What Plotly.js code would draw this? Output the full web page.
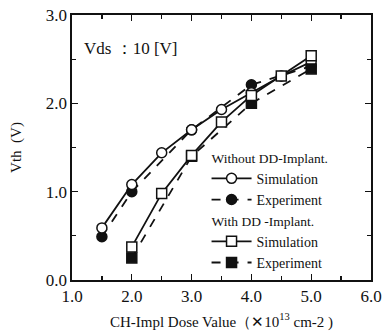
<!DOCTYPE html>
<html>
<head>
<meta charset="utf-8">
<script src="https://cdn.plot.ly/plotly-3.0.1.min.js"></script>
<style>html,body{margin:0;padding:0;background:#fff;}#chart{width:382px;height:335px;}</style>
</head>
<body>
<div id="chart"></div>
<script>
// Without DD-Implant
const xWoSim = [1.5, 2.0, 2.5, 3.0, 3.5, 4.0, 4.5, 5.0];
const yWoSim = [0.59, 1.08, 1.44, 1.70, 1.93, 2.12, 2.31, 2.47];
const xWoExp = [1.5, 2.0, 3.0, 4.0, 5.0];
const yWoExp = [0.49, 1.00, 1.70, 2.21, 2.42];
// With DD-Implant
const xWSim = [2.0, 2.5, 3.0, 3.5, 4.0, 4.5, 5.0];
const yWSim = [0.375, 0.98, 1.41, 1.79, 2.09, 2.31, 2.54];
const xWExp = [2.0, 3.0, 4.0, 5.0];
const yWExp = [0.25, 1.40, 2.00, 2.39];

const seriesNames = ['Simulation', 'Experiment'];
const groupTitles = ['Without DD-Implant.', 'With DD -Implant.'];
const xTickVals = [1, 2, 3, 4, 5, 6];
const yTickVals = [0, 1, 2, 3];

const FONT = 'Liberation Serif, Times New Roman, serif';

function tr(x, y, name, group, gtitle, symbol, dash, open) {
  return {
    x: x, y: y, name: name, type: 'scatter', mode: 'lines+markers',
    legendgroup: group,
    legendgrouptitle: {text: gtitle, font: {family: FONT, size: 13.5, color: '#111'}},
    line: {color: '#111', width: 1.8, dash: dash},
    marker: {symbol: symbol, size: 10, color: open ? '#fff' : '#111',
             line: {color: '#111', width: 1.5}}
  };
}

const data = [
  tr(xWoExp, yWoExp, seriesNames[1], 'wo', groupTitles[0], 'circle', 'dash', false),
  tr(xWoSim, yWoSim, seriesNames[0], 'wo', groupTitles[0], 'circle', 'solid', true),
  tr(xWExp, yWExp, seriesNames[1], 'w', groupTitles[1], 'square', 'dash', false),
  tr(xWSim, yWSim, seriesNames[0], 'w', groupTitles[1], 'square', 'solid', true)
];
data[1].legendrank = 1; data[0].legendrank = 2; data[3].legendrank = 3; data[2].legendrank = 4;

const axisCommon = {
  showline: true, linecolor: '#111', linewidth: 1.6, mirror: 'ticks',
  ticks: 'inside', ticklen: 6, tickwidth: 1.3, tickcolor: '#111',
  showgrid: false, zeroline: false, tickformat: '.1f',
  tickfont: {family: FONT, size: 17, color: '#111'},
  minor: {ticks: 'inside', ticklen: 4, tickwidth: 1.3, tickcolor: '#111', dtick: 0.5, showgrid: false}
};

const layout = {
  width: 382, height: 335,
  margin: {l: 72, r: 11, t: 15, b: 55},
  paper_bgcolor: '#fff', plot_bgcolor: '#fff',
  font: {family: FONT, color: '#111'},
  xaxis: Object.assign({}, axisCommon, {
    range: [1, 6], tickvals: xTickVals,
    title: {text: 'CH-Impl Dose Value（✕10<sup>13</sup> cm-2 )', font: {family: FONT, size: 15, color: '#111'}, standoff: 11}
  }),
  yaxis: Object.assign({}, axisCommon, {
    range: [0, 3], tickvals: yTickVals,
    title: {text: 'Vth  (V)', font: {family: FONT, size: 15, color: '#111'}, standoff: 20}
  }),
  showlegend: true,
  legend: {
    x: 0.45, y: 0.52, xanchor: 'left', yanchor: 'top',
    bgcolor: 'rgba(0,0,0,0)', borderwidth: 0,
    font: {family: FONT, size: 14, color: '#111'},
    tracegroupgap: 0, itemwidth: 40,
    traceorder: 'grouped'
  },
  annotations: [{
    xref: 'paper', yref: 'paper', x: 0.035, y: 0.875, xanchor: 'left', yanchor: 'middle',
    text: 'Vds ：10 [V]', showarrow: false, font: {family: FONT, size: 17, color: '#111'}
  }]
};

Plotly.newPlot('chart', data, layout, {displayModeBar: false, staticPlot: true});
</script>
</body>
</html>
